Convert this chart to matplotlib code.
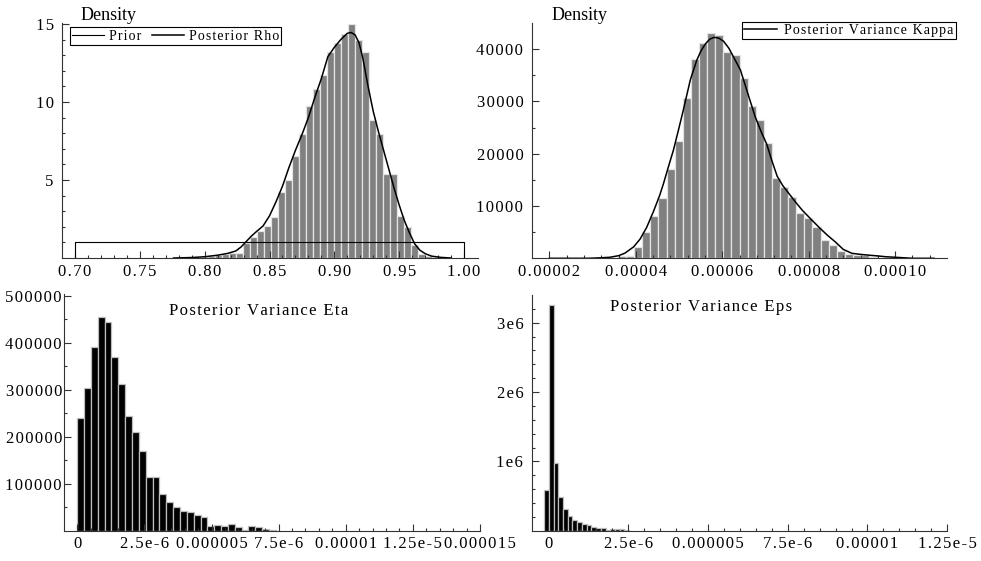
import numpy as np
import matplotlib
matplotlib.use("Agg")
import matplotlib.pyplot as plt
from matplotlib.lines import Line2D

plt.rcParams['font.family'] = ['Liberation Serif', 'DejaVu Serif']

# ---- data ----

# rho: histogram (bin start, width, heights) + smoothed density + uniform prior
rho_start = 0.7974
rho_width = 0.00539
rho_hist = [0.06, 0.12, 0.18, 0.25, 0.30, 0.32, 0.94, 1.37, 1.72, 2.05, 2.6,
            4.22, 5.0, 6.54, 7.94, 9.72, 10.8, 11.7, 13.2, 13.76, 14.35, 15.0,
            13.97, 13.2, 8.85, 7.93, 5.38, 5.38, 2.67, 2.0, 0.81, 0.28, 0.16,
            0.05, 0.03]
rho_x = [0.776, 0.790, 0.800, 0.810, 0.818, 0.824, 0.828, 0.832, 0.836, 0.840,
         0.845, 0.850, 0.855, 0.860, 0.865, 0.870, 0.875, 0.880, 0.885, 0.890,
         0.895, 0.900, 0.905, 0.910, 0.913, 0.916, 0.919, 0.922, 0.926, 0.930,
         0.934, 0.938, 0.942, 0.946, 0.950, 0.954, 0.958, 0.962, 0.966, 0.970,
         0.975, 0.982, 0.990]
rho_y = [0.0, 0.03, 0.08, 0.18, 0.30, 0.45, 0.70, 1.05, 1.40, 1.70,
         2.05, 2.70, 3.60, 4.60, 5.80, 6.90, 7.90, 9.00, 10.3, 11.5,
         12.9, 13.5, 14.0, 14.4, 14.45, 14.3, 13.8, 12.8, 11.0, 9.4,
         8.1, 6.9, 5.7, 4.5, 3.4, 2.4, 1.6, 0.9, 0.5, 0.28,
         0.12, 0.04, 0.0]
prior_x = [0.70, 0.70, 1.00, 1.00]
prior_y = [0.0, 1.0, 1.0, 0.0]

# kappa
kap_start = 3.0235e-5
kap_width = 1.875e-6
kap_hist = [30, 60, 120, 480, 450, 2200, 4970, 8090, 11600, 17030, 22400,
            30700, 38200, 41100, 43140, 42700, 39400, 38950, 34420, 29120,
            26440, 22100, 15410, 13690, 11780, 8600, 7650, 6000, 3500, 2540,
            1460, 790, 700, 540, 320, 130, 80, 40]
kap_x = [2.0e-5, 2.9e-5, 3.2e-5, 3.4e-5, 3.6e-5, 3.75e-5, 3.95e-5, 4.1e-5,
         4.25e-5, 4.41e-5, 4.55e-5, 4.64e-5, 4.75e-5, 4.87e-5, 5.0e-5, 5.1e-5,
         5.26e-5, 5.41e-5, 5.51e-5, 5.61e-5, 5.71e-5, 5.81e-5, 5.92e-5, 6.03e-5,
         6.15e-5, 6.26e-5, 6.42e-5, 6.58e-5, 6.76e-5, 6.9e-5, 7.03e-5, 7.15e-5,
         7.27e-5, 7.4e-5, 7.54e-5, 7.7e-5, 7.85e-5, 8.05e-5, 8.23e-5, 8.42e-5,
         8.62e-5, 8.8e-5, 9.0e-5, 9.2e-5, 9.39e-5, 9.6e-5, 9.78e-5, 1.01e-4,
         1.04e-4, 1.09e-4]
kap_y = [0, 0, 100, 200, 500, 1000, 2200, 3700,
         5900, 9000, 12000, 14300, 17400, 20700, 25000, 28400,
         34100, 37900, 39700, 41000, 41900, 42250, 42100, 41500,
         40200, 38500, 36000, 31800, 27100, 24200, 21800, 18600,
         15700, 13900, 12400, 10700, 9200, 7500, 6000, 4500,
         3100, 1700, 950, 750, 600, 450, 300, 150,
         0, 0]

# eta
eta_start = 0.0
eta_width = 2.55e-7
eta_hist = [240000, 303600, 390800, 453800, 443200, 369600, 312100, 244700,
            210000, 170200, 113400, 113600, 78000, 60200, 49600, 42500, 38900,
            32500, 29100, 10600, 12800, 10600, 14900, 7800, 2100, 9200, 7100,
            3600, 800]

# eps
eps_start = -1.3e-7
eps_width = 1.48e-7
eps_hist = [582000, 3251000, 981000, 488000, 307000, 216000, 158000, 120000,
            91000, 76000, 55000, 43000, 33000, 15000, 28000, 23000, 23000, 9000]

# ticks
rho_xt = [0.70, 0.75, 0.80, 0.85, 0.90, 0.95, 1.00]
rho_xl = ["0.70", "0.75", "0.80", "0.85", "0.90", "0.95", "1.00"]
rho_yt = [5, 10, 15]
kap_xt = [2e-5, 4e-5, 6e-5, 8e-5, 1e-4]
kap_xl = ["0.00002", "0.00004", "0.00006", "0.00008", "0.00010"]
kap_yt = [10000, 20000, 30000, 40000]
eta_xt = [0, 2.5e-6, 5e-6, 7.5e-6, 1e-5, 1.25e-5, 1.5e-5]
eta_xl = ["0", "2.5e-6", "0.000005", "7.5e-6", "0.00001", "1.25e-5", "0.000015"]
eta_yt = [100000, 200000, 300000, 400000, 500000]
eps_xt = [0, 2.5e-6, 5e-6, 7.5e-6, 1e-5, 1.25e-5]
eps_xl = ["0", "2.5e-6", "0.000005", "7.5e-6", "0.00001", "1.25e-5"]
eps_yt = [1e6, 2e6, 3e6]
eps_yl = ["1e6", "2e6", "3e6"]

W, H = 981, 561
AX = '#333333'


def sp(s):
    # mathematica-like letter spacing
    return '\u200a'.join(s)


fig = plt.figure(figsize=(W / 100, H / 100), dpi=100)


def make_ax(l, r, t, b):
    ax = fig.add_axes([l / W, 1 - b / H, (r - l) / W, (b - t) / H])
    for s in ['top', 'right']:
        ax.spines[s].set_visible(False)
    for s in ['left', 'bottom']:
        ax.spines[s].set_color(AX)
        ax.spines[s].set_linewidth(0.8)
    ax.tick_params(which='both', direction='in', color=AX, width=0.8,
                   labelsize=12, pad=4)
    ax.tick_params(which='major', length=5)
    ax.tick_params(which='minor', length=2.5)
    return ax


def ticks(ax, xt, xl, yt, yl, xminor, yminor):
    ax.set_xticks(xt)
    ax.set_xticklabels([sp(s) for s in xl])
    ax.set_yticks(yt)
    ax.set_yticklabels([sp(s) for s in yl])
    ax.set_xticks(xminor, minor=True)
    ax.set_yticks(yminor, minor=True)


def hist(ax, start, width, heights, face, edge):
    left = start + width * np.arange(len(heights))
    ax.bar(left, heights, width=width, align='edge', color=face,
           edgecolor=edge, linewidth=0.9)


# ---- top left: rho ----
ax1 = make_ax(62, 478, 23, 258)
hist(ax1, rho_start, rho_width, rho_hist, '#808080', '#e4e4e4')
ax1.plot(prior_x, prior_y, color='black', lw=0.8)
ax1.plot(rho_x, rho_y, color='black', lw=1.1)
ax1.set_xlim(0.68997, 1.0108)
ax1.set_ylim(0, 15.06)
ticks(ax1, rho_xt, rho_xl, rho_yt, [str(v) for v in rho_yt],
      np.arange(0.70, 1.005, 0.01), np.arange(1, 15, 1))
ax1.tick_params(axis='y', pad=6)

leg1 = [Line2D([], [], color='black', lw=0.8), Line2D([], [], color='black', lw=1.1)]
fig.legend(leg1, [sp("Prior"), sp("Posterior Rho")], loc='upper left',
           bbox_to_anchor=(70 / W, 1 - 27.5 / H), bbox_transform=fig.transFigure,
           ncol=2, fontsize=10, frameon=True, fancybox=False, edgecolor='black',
           framealpha=1, borderpad=0.15, borderaxespad=0, handlelength=2.3,
           handletextpad=0.35, columnspacing=0.8).get_frame().set_linewidth(0.8)
fig.text(81 / W, 1 - 20 / H, "Density", fontsize=13, va='baseline')

# ---- top right: kappa ----
ax2 = make_ax(531.7, 947, 22.7, 258.3)
hist(ax2, kap_start, kap_width, kap_hist, '#808080', '#e4e4e4')
ax2.plot(kap_x, kap_y, color='black', lw=1.1)
ax2.set_xlim(1.59e-5, 1.12e-4)
ax2.set_ylim(0, 45050)
ticks(ax2, kap_xt, kap_xl, kap_yt, [str(v) for v in kap_yt],
      np.arange(2e-5, 1.1e-4, 4e-6), np.arange(5000, 45000, 5000))
ax2.tick_params(axis='y', pad=6)

leg2 = [Line2D([], [], color='black', lw=1.1)]
fig.legend(leg2, [sp("Posterior Variance Kappa")], loc='upper left',
           bbox_to_anchor=(742 / W, 1 - 22 / H), bbox_transform=fig.transFigure,
           fontsize=10, frameon=True, fancybox=False, edgecolor='black',
           framealpha=1, borderpad=0.15, borderaxespad=0, handlelength=2.4,
           handletextpad=0.5).get_frame().set_linewidth(0.8)
fig.text(551.7 / W, 1 - 20 / H, "Density", fontsize=13, va='baseline')

# ---- bottom left: eta ----
ax3 = make_ax(64, 480, 294, 530.7)
hist(ax3, eta_start, eta_width, eta_hist, 'black', '#bdbdbd')
ax3.set_xlim(-4.94e-7, 1.497e-5)
ax3.set_ylim(0, 503600)
ticks(ax3, eta_xt, eta_xl, eta_yt, [str(v) for v in eta_yt],
      np.arange(0, 1.5e-5, 5e-7), np.arange(50000, 500001, 50000))
ax3.tick_params(axis='y', pad=1.5)
fig.text(258.8 / W, 1 - 315 / H, sp("Posterior Variance Eta"), fontsize=12,
         ha='center', va='baseline')

# ---- bottom right: eps ----
ax4 = make_ax(531.7, 947.3, 295, 530.7)
hist(ax4, eps_start, eps_width, eps_hist, 'black', '#bdbdbd')
ax4.set_xlim(-5.2e-7, 1.25e-5)
ax4.set_ylim(0, 3.40e6)
ticks(ax4, eps_xt, eps_xl, eps_yt, eps_yl,
      np.arange(0, 1.25e-5, 5e-7), np.arange(2e5, 3.4e6, 2e5))
ax4.tick_params(axis='y', pad=6)
fig.text(700.8 / W, 1 - 311 / H, sp("Posterior Variance Eps"), fontsize=12,
         ha='center', va='baseline')

fig.savefig("out.png", dpi=100)
